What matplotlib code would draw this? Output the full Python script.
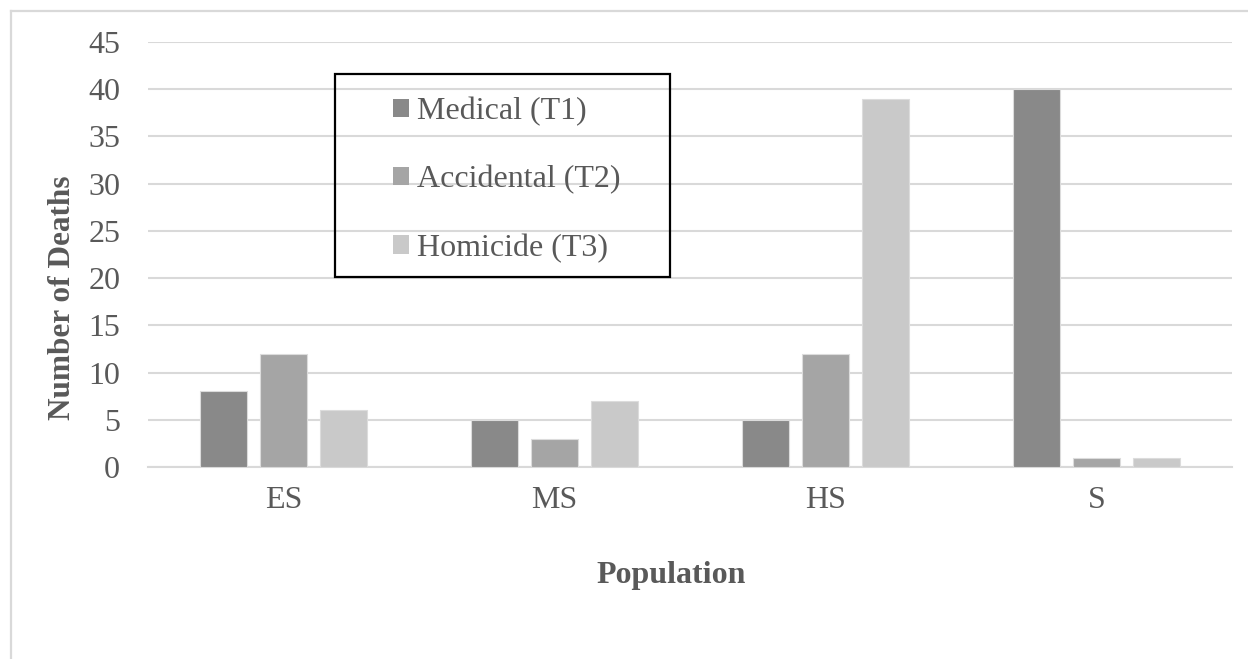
import matplotlib
matplotlib.use("Agg")
import matplotlib.pyplot as plt
from matplotlib.patches import Patch, Rectangle
from matplotlib.lines import Line2D
import numpy as np

categories = ["ES", "MS", "HS", "S"]
series_names = ["Medical (T1)", "Accidental (T2)", "Homicide (T3)"]
medical = [8, 5, 5, 40]
accidental = [12, 3, 12, 1]
homicide = [6, 7, 39, 1]
y_ticks = [0, 5, 10, 15, 20, 25, 30, 35, 40, 45]

colors = ["#898989", "#a5a5a5", "#c9c9c9"]
grid_color = "#d9d9d9"
text_color = "#595959"

plt.rcParams["font.family"] = ["Liberation Serif", "DejaVu Serif"]
FS = 23

W, H = 1248, 659
fig = plt.figure(figsize=(W / 100, H / 100), dpi=100)
fig.patch.set_facecolor("white")


def fx(px):
    return px / W


def fy(py):
    return 1 - py / H


# chart-area border (top and left edges visible)
fig.add_artist(Line2D([fx(11), fx(W)], [fy(11), fy(11)], color=grid_color, lw=1.6,
                      transform=fig.transFigure))
fig.add_artist(Line2D([fx(11), fx(11)], [fy(11), fy(H)], color=grid_color, lw=1.6,
                      transform=fig.transFigure))

left, right, top, bottom = 148, 1232, 42, 467
ax = fig.add_axes([fx(left), fy(bottom), fx(right - left), (bottom - top) / H])

x = np.arange(len(categories))
offset = 60 / 271
width = 47 / 271
for i, (vals, name) in enumerate(zip([medical, accidental, homicide], series_names)):
    ax.bar(x + (i - 1) * offset, vals, width, color=colors[i], edgecolor="#dcdcdc",
           linewidth=0.8, label=name, zorder=3)

ax.set_xlim(-0.5, len(categories) - 0.5)
ax.set_ylim(0, 45)
ax.set_yticks(y_ticks)
ax.yaxis.grid(True, color=grid_color, lw=1.5, zorder=0)
ax.set_axisbelow(True)
for s in ["top", "right", "left"]:
    ax.spines[s].set_visible(False)
ax.spines["bottom"].set_color(grid_color)
ax.spines["bottom"].set_linewidth(1.5)
ax.tick_params(axis="both", length=0, labelsize=FS, colors=text_color)
ax.tick_params(axis="y", pad=20)
ax.tick_params(axis="x", pad=14)
ax.set_xticks(x)
ax.set_xticklabels(categories)

fig.text(fx(63), fy(298), "Number of Deaths", rotation=90, ha="center", va="center",
         fontsize=22.5, fontweight="bold", color=text_color)
fig.text(fx(671), fy(576), "Population", ha="center", va="center",
         fontsize=FS, fontweight="bold", color=text_color)

# legend box
fig.add_artist(Rectangle((fx(335), fy(277)), fx(670 - 335), (277 - 74) / H,
                         transform=fig.transFigure, fill=False, edgecolor="black",
                         lw=1.6, zorder=5))
handles = [Patch(facecolor=c, edgecolor="none") for c in colors]
leg = fig.legend(handles, series_names, loc="upper left",
                 bbox_to_anchor=(fx(393), fy(97)), bbox_transform=fig.transFigure,
                 frameon=False, fontsize=FS, handlelength=0.5, handleheight=0.5,
                 handletextpad=0.25, labelspacing=1.22, borderpad=0, borderaxespad=0)
for t in leg.get_texts():
    t.set_color(text_color)

fig.savefig("out.png", dpi=100)
